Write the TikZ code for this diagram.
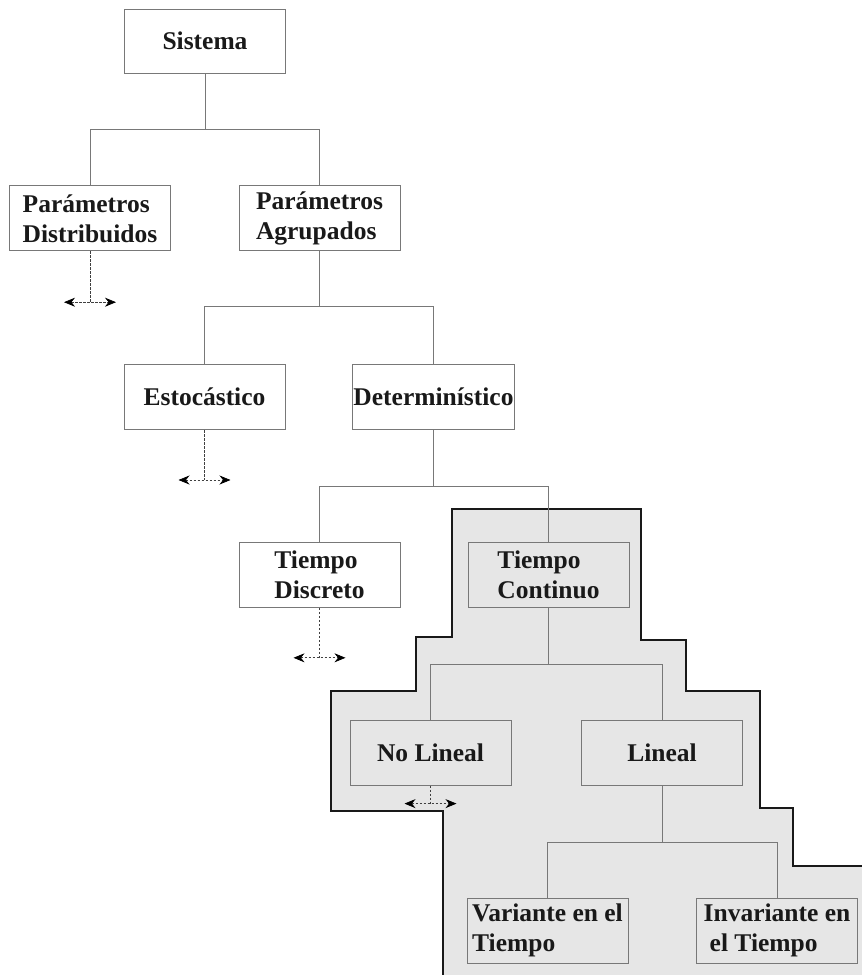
\documentclass[tikz,border=0pt]{standalone}
\usepackage{fontspec}
\setmainfont{Liberation Serif}
\usepackage{tikz}
\usetikzlibrary{arrows.meta, positioning}
\definecolor{cEdge}{RGB}{120,120,120}
\definecolor{cShade}{RGB}{230,230,230}
\tikzset{
	box/.style   ={rectangle, draw=cEdge, line width=0.8pt, minimum width=161pt, minimum height=65pt, inner sep=1pt, align=left, font=\bfseries\fontsize{25.5}{30}\selectfont, text=black!90},
	fork/.style  ={draw=cEdge, line width=0.8pt},
	% open branches
	ext/.style   ={draw=black!75, line width=0.7pt, dash pattern=on 2.5pt off 1.5pt},
	extarr/.style={ext, {Stealth[length=11pt, width=9pt, black]}-{Stealth[length=11pt, width=9pt, black]}},
	region/.style={fill=cShade, draw=black!90, line width=2.4pt},
}
\begin{document}
\begin{tikzpicture}[x=1pt, y=-1pt]
	\useasboundingbox (0,0) rectangle (862,975);
	\filldraw[region] (452,509) -- (641,509) -- (641,640) -- (686,640) -- (686,691) -- (760,691) -- (760,808) -- (793,808) -- (793,866) -- (880,866) -- (880,995) -- (443,995) -- (443,811) -- (331,811) -- (331,691) -- (416,691) -- (416,637) -- (452,637) -- cycle;
	\node[box, minimum height=64pt] (sis) at (205,41) {Sistema};
	\node[box, below=112pt of sis, xshift=-115pt] (pd) {Parámetros\\Distribuidos};
	\node[box, below=112pt of sis, xshift=114.5pt] (pa) {Parámetros\\Agrupados};
	\node[box, below=113pt of pa, xshift=-115pt] (est) {Estocástico};
	\node[box, below=113pt of pa, xshift=114pt] (det) {Determinístico};
	\node[box, below=112pt of det, xshift=-114pt] (td) {Tiempo\\Discreto};
	\node[box, below=112pt of det, xshift=115pt] (tc) {Tiempo\\Continuo};
	\node[box, below=112pt of tc, xshift=-118pt] (nl) {No Lineal};
	\node[box, below=112pt of tc, xshift=113.5pt] (lin) {Lineal};
	\node[box, below=112pt of lin, xshift=-114.5pt] (var) {Variante en el\\Tiempo};
	\node[box, below=112pt of lin, xshift=115pt] (inv) {Invariante en\\\hspace*{6pt}el Tiempo};
	\draw[fork] (sis.south) -- ++(0,56) -| (pd.north);
	\draw[fork] (sis.south) -- ++(0,56) -| (pa.north);
	\draw[fork] (pa.south) -- ++(0,55) -| (est.north);
	\draw[fork] (pa.south) -- ++(0,55) -| (det.north);
	\draw[fork] (det.south) -- ++(0,56) -| (td.north);
	\draw[fork] (det.south) -- ++(0,56) -| (tc.north);
	\draw[fork] (tc.south) -- ++(0,57) -| (nl.north);
	\draw[fork] (tc.south) -- ++(0,57) -| (lin.north);
	\draw[fork] (lin.south) -- ++(0,57) -| (var.north);
	\draw[fork] (lin.south) -- ++(0,57) -| (inv.north);
	\coordinate[below=51pt of pd] (pdx);
	\coordinate[below=50pt of est] (estx);
	\coordinate[below=50pt of td] (tdx);
	\coordinate[below=18pt of nl] (nlx);
	\draw[ext] (pd.south) -- (pdx);
	\draw[extarr] ([xshift=-26pt]pdx) -- ([xshift=26pt]pdx);
	\draw[ext] (est.south) -- (estx);
	\draw[extarr] ([xshift=-26pt]estx) -- ([xshift=26pt]estx);
	\draw[ext] (td.south) -- (tdx);
	\draw[extarr] ([xshift=-26pt]tdx) -- ([xshift=26pt]tdx);
	\draw[ext] (nl.south) -- (nlx);
	\draw[extarr] ([xshift=-26pt]nlx) -- ([xshift=26pt]nlx);
\end{tikzpicture}
\end{document}
